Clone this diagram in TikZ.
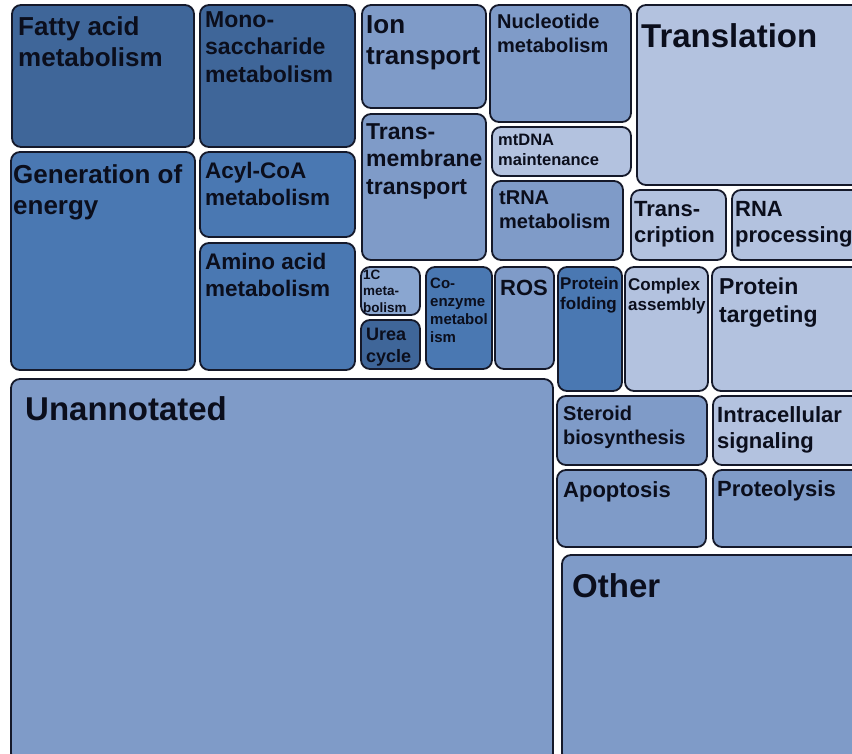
\documentclass[tikz,border=0pt]{standalone}
\usepackage{fontspec}
\setmainfont{Liberation Sans}
\definecolor{tdark}{HTML}{3F6699}
\definecolor{tmed}{HTML}{4A78B2}
\definecolor{tlight}{HTML}{7F9BC8}
\definecolor{tlighter}{HTML}{8AA6D0}
\definecolor{tpale}{HTML}{B3C2DF}
\definecolor{edge}{HTML}{15192A}
\definecolor{ink}{HTML}{0B0E1C}
\newcommand\fs[1]{\fontsize{#1}{\fpeval{1.2*#1}}\selectfont}
\tikzset{
  tile/.style={draw=edge, line width=1.8pt, rounded corners=9pt, anchor=north west, inner sep=0pt, outer sep=0pt},
  lab/.style={anchor=north west, inner sep=0pt, align=left, text=ink}
}
% tile: name, x1, y1, x2, y2 (page pixels, y downwards), fill
\newcommand\tmbox[6]{\node[tile, fill=#6, minimum width={(#4-#2)*1pt}, minimum height={(#5-#3)*1pt}] (#1) at (#2,#3) {};}
% label: tile name, left inset, top inset, size, text
\newcommand\tmlab[5]{\node[lab, font=\bfseries\fs{#4}] (#1-l) at ([shift={(#2pt,-#3pt)}]#1.north west) {#5};}
\begin{document}
\begin{tikzpicture}[x=1pt, y=-1pt]
\useasboundingbox (0,0) rectangle (852,754);
\fill[white] (0,0) rectangle (852,754);
\clip (0,0) rectangle (852,754);

% metabolism block
\tmbox{fatty}{12}{5}{194}{147}{tdark}
\tmlab{fatty}{6}{11}{26}{Fatty acid\\metabolism}
\tmbox{mono}{200}{5}{355}{147}{tdark}
\tmlab{mono}{5}{6}{23}{Mono-\\saccharide\\metabolism}
\tmbox{energy}{11}{152}{195}{370}{tmed}
\tmlab{energy}{2}{12}{26}{Generation of\\energy}
\tmbox{acyl}{200}{152}{355}{237}{tmed}
\tmlab{acyl}{5}{10}{22.5}{Acyl-CoA\\metabolism}
\tmbox{amino}{200}{243}{355}{370}{tmed}
\tmlab{amino}{5}{10}{22.5}{Amino acid\\metabolism}

% transport and nucleic acids
\tmbox{ion}{362}{5}{486}{108}{tlight}
\tmlab{ion}{4}{10}{26}{Ion\\transport}
\tmbox{transm}{362}{114}{486}{260}{tlight}
\tmlab{transm}{4}{9}{23}{Trans-\\membrane\\transport}
\tmbox{nucleo}{490}{5}{631}{122}{tlight}
\tmlab{nucleo}{7}{9}{20}{Nucleotide\\metabolism}
\tmbox{mtdna}{492}{127}{631}{176}{tpale}
\tmlab{mtdna}{6}{7}{16.5}{mtDNA\\maintenance}
\tmbox{trna}{492}{181}{623}{260}{tlight}
\tmlab{trna}{7}{10}{20}{tRNA\\metabolism}
\tmbox{transl}{637}{5}{862}{185}{tpale}
\tmlab{transl}{4}{18}{33}{Translation}
\tmbox{transc}{631}{190}{726}{260}{tpale}
\tmlab{transc}{3}{11}{22}{Trans-\\cription}
\tmbox{rnaproc}{732}{190}{862}{260}{tpale}
\tmlab{rnaproc}{3}{11}{22}{RNA\\processing}

% small tiles
\tmbox{onec}{361}{267}{420}{315}{tlighter}
\tmlab{onec}{2}{3}{13.5}{1C\\meta-\\bolism}
\tmbox{urea}{361}{320}{420}{369}{tdark}
\tmlab{urea}{5}{8}{18}{Urea\\cycle}
\tmbox{coenz}{426}{267}{492}{369}{tmed}
\tmlab{coenz}{4}{11}{15}{Co-\\enzyme\\metabol\\ism}
\tmbox{ros}{495}{267}{554}{369}{tlight}
\tmlab{ros}{5}{13}{22}{ROS}
\tmbox{pfold}{558}{267}{622}{391}{tmed}
\tmlab{pfold}{2}{10}{17}{Protein\\folding}
\tmbox{complex}{625}{267}{708}{391}{tpale}
\tmlab{complex}{3}{11}{17}{Complex\\assembly}
\tmbox{ptarget}{712}{267}{862}{391}{tpale}
\tmlab{ptarget}{7}{11}{23}{Protein\\targeting}

% large tiles and lower right group
\tmbox{unann}{11}{379}{553}{762}{tlight}
\tmlab{unann}{14}{17}{33}{Unannotated}
\tmbox{steroid}{557}{396}{707}{465}{tlight}
\tmlab{steroid}{6}{10}{20}{Steroid\\biosynthesis}
\tmbox{intrac}{713}{396}{862}{465}{tpale}
\tmlab{intrac}{4}{10}{22}{Intracellular\\signaling}
\tmbox{apopt}{557}{470}{706}{547}{tlight}
\tmlab{apopt}{6}{11}{22}{Apoptosis}
\tmbox{proteol}{713}{470}{862}{547}{tlight}
\tmlab{proteol}{4}{10}{22}{Proteolysis}
\tmbox{other}{562}{555}{862}{762}{tlight}
\tmlab{other}{10}{18}{33}{Other}
\end{tikzpicture}
\end{document}
